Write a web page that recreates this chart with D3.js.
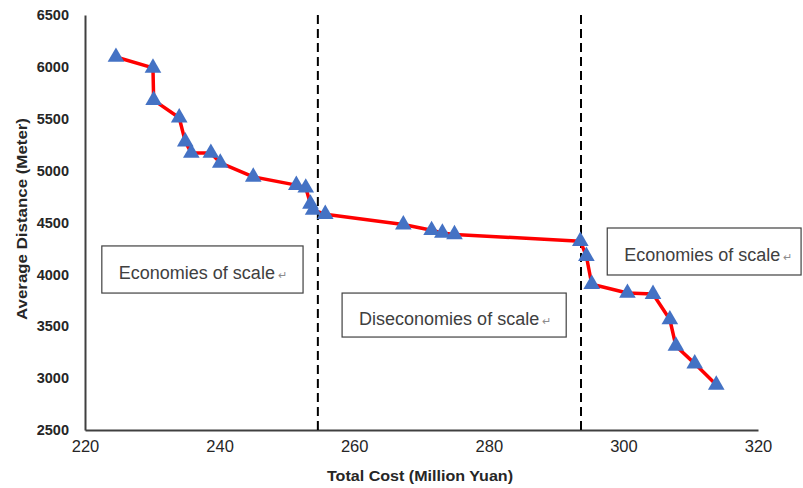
<!DOCTYPE html>
<html>
<head>
<meta charset="utf-8">
<script src="https://cdn.jsdelivr.net/npm/d3@7"></script>
<style>
  body { margin: 0; background: #fff; }
  text { font-family: "Liberation Sans", Arial, sans-serif; }
</style>
</head>
<body>
<div id="chart"></div>
<script>
const width = 803;
const height = 488;
const margin = {top: 15, right: 45, bottom: 58, left: 85};

// Total cost (million yuan) vs average distance (meter)
const cost = [224.6, 230.1, 230.2, 234.0, 234.9, 235.8, 238.7, 240.1, 245.0, 251.4, 252.8, 253.5, 253.9, 255.7,
  267.3, 271.5, 273.1, 274.9, 293.6, 294.5, 295.3, 300.6, 304.4, 306.9, 307.8, 310.6, 313.8];
const distance = [6095, 5990, 5680, 5510, 5280, 5170, 5170, 5075, 4940, 4860, 4835, 4680, 4620, 4580,
  4480, 4425, 4400, 4385, 4320, 4175, 3905, 3820, 3810, 3565, 3310, 3140, 2935];

const xTicks = [220, 240, 260, 280, 300, 320];
const yTicks = [2500, 3000, 3500, 4000, 4500, 5000, 5500, 6000, 6500];

// boundaries between the regimes
const breaks = [254.6, 293.7];

// annotation boxes, in data units
const notes = [
  {label: "Economies of scale", x0: 222.5, x1: 252.4, y0: 4274, y1: 3820},
  {label: "Diseconomies of scale", x0: 258.2, x1: 291.5, y0: 3820, y1: 3396},
  {label: "Economies of scale", x0: 297.6, x1: 326.4, y0: 4447, y1: 3994}
];

const x = d3.scaleLinear().domain([220, 320]).range([margin.left, width - margin.right]);
const y = d3.scaleLinear().domain([2500, 6500]).range([height - margin.bottom, margin.top]);

const svg = d3.select("#chart").append("svg").attr("width", width).attr("height", height);

// axes (no tick marks, just the line and labels)
const xAxis = svg.append("g").attr("transform", `translate(0,${y(2500)})`)
  .call(d3.axisBottom(x).tickValues(xTicks).tickSize(0).tickPadding(10).tickFormat(d3.format("d")));
xAxis.select(".domain").attr("stroke", "#404040").attr("stroke-width", 2);
xAxis.selectAll("text").attr("font-size", 16.5).attr("fill", "#262626").attr("font-family", "Liberation Sans, Arial");

const yAxis = svg.append("g").attr("transform", `translate(${x(220)},0)`)
  .call(d3.axisLeft(y).tickValues(yTicks).tickSize(0).tickPadding(16).tickFormat(d3.format("d")));
yAxis.select(".domain").attr("stroke", "#404040").attr("stroke-width", 2);
yAxis.selectAll("text").attr("font-size", 14.5).attr("font-weight", "bold").attr("fill", "#262626")
  .attr("font-family", "Liberation Sans, Arial");

svg.append("text").attr("x", 420).attr("y", 481).attr("text-anchor", "middle")
  .attr("font-size", 15).attr("font-weight", "bold").attr("fill", "#262626")
  .attr("textLength", 186).attr("lengthAdjust", "spacingAndGlyphs")
  .text("Total Cost (Million Yuan)");

svg.append("text").attr("transform", "translate(27,219) rotate(-90)").attr("text-anchor", "middle")
  .attr("font-size", 15).attr("font-weight", "bold").attr("fill", "#262626")
  .attr("textLength", 202).attr("lengthAdjust", "spacingAndGlyphs")
  .text("Average Distance (Meter)");

// dashed regime boundaries
svg.append("g").selectAll("line").data(breaks).join("line")
  .attr("x1", d => x(d)).attr("x2", d => x(d))
  .attr("y1", y(6500)).attr("y2", y(2500))
  .attr("stroke", "#000").attr("stroke-width", 2).attr("stroke-dasharray", "9,5");

// annotation boxes
const note = svg.append("g").selectAll("g").data(notes).join("g");
note.append("rect")
  .attr("x", d => x(d.x0)).attr("y", d => y(d.y0))
  .attr("width", d => x(d.x1) - x(d.x0)).attr("height", d => y(d.y1) - y(d.y0))
  .attr("fill", "#fff").attr("stroke", "#404040").attr("stroke-width", 1.2);
const noteText = note.append("text")
  .attr("x", d => x(d.x0) + 17).attr("y", d => (y(d.y0) + y(d.y1)) / 2 + 10)
  .attr("font-size", 18).attr("fill", "#404040");
noteText.append("tspan").text(d => d.label);
noteText.append("tspan").attr("dx", 3).attr("font-size", 11).attr("fill", "#8c8c8c").text("\u21b5");

// line and markers
const pts = cost.map((c, i) => [c, distance[i]]);
svg.append("path").datum(pts)
  .attr("d", d3.line().x(d => x(d[0])).y(d => y(d[1])))
  .attr("fill", "none").attr("stroke", "#ff0000").attr("stroke-width", 3.5).attr("stroke-linejoin", "round");

svg.append("g").selectAll("path").data(pts).join("path")
  .attr("transform", d => `translate(${x(d[0])},${y(d[1])})`)
  .attr("d", d3.symbol().type(d3.symbolTriangle).size(120))
  .attr("fill", "#4472c4");
</script>
</body>
</html>
